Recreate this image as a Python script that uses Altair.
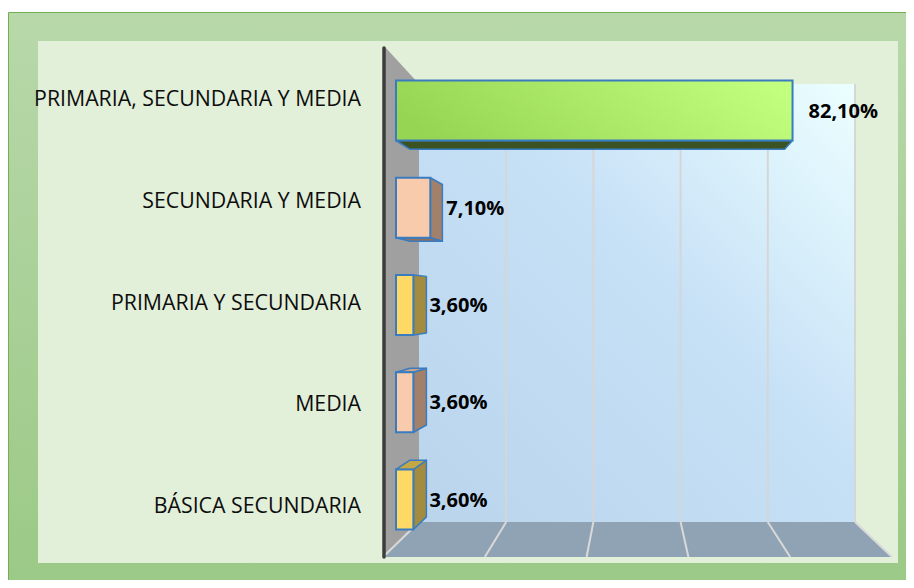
import altair as alt
import pandas as pd

# ---------------- data ----------------
categories = ["PRIMARIA, SECUNDARIA Y MEDIA", "SECUNDARIA Y MEDIA",
              "PRIMARIA Y SECUNDARIA", "MEDIA", "BÁSICA SECUNDARIA"]
values = [82.1, 7.1, 3.6, 3.6, 3.6]
front_colors = ["#9ad556", "#f8cbad", "#ffd966", "#f8cbad", "#ffd966"]
side_colors = ["#3b5323", "#a3806a", "#a38b3f", "#a3806a", "#a38b3f"]
cap_colors = ["#3b5323", "#8e6f5b", "#c4a747", "#c7a38c", "#c4a747"]
grid_ticks = [0, 20, 40, 60, 80, 100]

# ---------------- layout ----------------
W, H = 898, 572
X_RANGE = [388, 871]          # front plane of the bars (value 0..100)
Y_RANGE = [102.5, 491.5]      # bar centres (position 0..4)
LABEL_RANGE = [92, 499]       # category label centres
HALF = 0.3085                 # half bar thickness in position units
DEPTH = 0.055                 # perspective depth of the bars
VPX, VPY = 52.6, 1.949        # vanishing point in data units
BLUE = "#3a7cc0"

xs = alt.Scale(domain=[0, 100], range=X_RANGE, nice=False, zero=False)
ys = alt.Scale(domain=[0, 4], range=Y_RANGE, nice=False, zero=False)
ls = alt.Scale(domain=[0, 4], range=LABEL_RANGE, nice=False, zero=False)

bars = pd.DataFrame({
    "cat": categories, "v": values, "pos": list(range(len(values))),
    "color": front_colors,
})
bars["x0"] = 0.0
bars["yt"] = bars["pos"] - HALF
bars["yb"] = bars["pos"] + HALF


def bx(x):
    return x + DEPTH * (VPX - x)


def by(y):
    return y + DEPTH * (VPY - y)


side_rows, cap_rows = [], []
for i, (v, p) in enumerate(zip(values, bars["pos"])):
    yt, yb = p - HALF, p + HALF
    if v < VPX:
        side_rows.append({"id": i, "x": v, "y": yt, "y2": yb, "color": side_colors[i]})
        side_rows.append({"id": i, "x": bx(v), "y": by(yt), "y2": by(yb), "color": side_colors[i]})
    if yt > VPY:
        cap_rows.append({"id": i, "y": yt, "x": 0.0, "x2": v, "color": cap_colors[i]})
        cap_rows.append({"id": i, "y": by(yt), "x": bx(0.0), "x2": bx(v), "color": cap_colors[i]})
    elif yb < VPY:
        cap_rows.append({"id": i, "y": yb, "x": 0.0, "x2": v, "color": cap_colors[i]})
        cap_rows.append({"id": i, "y": by(yb), "x": bx(0.0), "x2": bx(v), "color": cap_colors[i]})
sides = pd.DataFrame(side_rows)
caps = pd.DataFrame(cap_rows)

one = pd.DataFrame({"k": [0]})

# ---------------- frame / 3D walls (pixel decoration) ----------------
outer = alt.Chart(one).mark_rect(
    fill=alt.Gradient(gradient="linear",
                      stops=[alt.GradientStop(color="#b8d8aa", offset=0),
                             alt.GradientStop(color="#9bc986", offset=1)],
                      x1=0, x2=0, y1=0, y2=1),
    stroke="#74b052", strokeWidth=1,
).encode(x=alt.value(0.5), x2=alt.value(W + 6), y=alt.value(4.5), y2=alt.value(H + 6))

inner = alt.Chart(one).mark_rect(fill="#e2efd9").encode(
    x=alt.value(30), x2=alt.value(890), y=alt.value(33), y2=alt.value(555))

backwall = alt.Chart(one).mark_rect(
    fill=alt.Gradient(gradient="linear",
                      stops=[alt.GradientStop(color="#bad4ec", offset=0),
                             alt.GradientStop(color="#c6e0f6", offset=0.55),
                             alt.GradientStop(color="#ecffff", offset=1)],
                      x1=0, x2=1, y1=1, y2=0),
).encode(x=alt.value(411), x2=alt.value(847), y=alt.value(76), y2=alt.value(514))

sidewall_df = pd.DataFrame({"px": [377, 411], "py": [39, 76], "py2": [549, 514]})
sidewall = alt.Chart(sidewall_df).mark_area(fill="#a0a0a0", orient="vertical").encode(
    x=alt.X("px:Q", scale=None, axis=None),
    y=alt.Y("py:Q", scale=None, axis=None),
    y2="py2:Q")

floor_df = pd.DataFrame({"py": [514, 549], "px": [411, 375], "px2": [847, 884]})
floor = alt.Chart(floor_df).mark_area(fill="#8fa3b5", orient="horizontal").encode(
    y=alt.Y("py:Q", scale=None, axis=None),
    x=alt.X("px:Q", scale=None, axis=None),
    x2="px2:Q")

grid_df = pd.DataFrame({"t": grid_ticks})
backgrid = alt.Chart(grid_df).transform_filter("datum.t > 0").transform_calculate(
    gx="411 + 4.36 * datum.t"
).mark_rule(stroke="#d6d6d6", strokeWidth=2).encode(
    x=alt.X("gx:Q", scale=None, axis=None), y=alt.value(76), y2=alt.value(514))

floorgrid = alt.Chart(grid_df).transform_calculate(
    gx="411 + 4.36 * datum.t", fx="375 + 5.09 * datum.t", gy="514", fy="549"
).mark_rule(stroke="#d9d9d9", strokeWidth=2).encode(
    x=alt.X("gx:Q", scale=None, axis=None), x2="fx:Q",
    y=alt.Y("gy:Q", scale=None, axis=None), y2="fy:Q")

axisline = alt.Chart(one).mark_rule(stroke="#3c3c3c", strokeWidth=3.5, strokeCap="round").encode(
    x=alt.value(376), y=alt.value(40), y2=alt.value(549))

# ---------------- bars ----------------
side_layer = alt.Chart(sides).mark_area(orient="vertical", stroke=BLUE, strokeWidth=1.5,
                                        strokeJoin="round").encode(
    x=alt.X("x:Q", scale=xs, axis=None),
    y=alt.Y("y:Q", scale=ys, axis=None),
    y2="y2:Q",
    fill=alt.Fill("color:N", scale=None),
    detail="id:N")

cap_layer = alt.Chart(caps).mark_area(orient="horizontal", stroke=BLUE, strokeWidth=1.5,
                                      strokeJoin="round").encode(
    y=alt.Y("y:Q", scale=ys, axis=None),
    x=alt.X("x:Q", scale=xs, axis=None),
    x2="x2:Q",
    fill=alt.Fill("color:N", scale=None),
    detail="id:N")

front_enc = dict(
    x=alt.X("x0:Q", scale=xs, axis=None), x2="v:Q",
    y=alt.Y("yt:Q", scale=ys, axis=None), y2="yb:Q",
)
front_plain = alt.Chart(bars).transform_filter("datum.pos > 0").mark_rect(
    stroke=BLUE, strokeWidth=2).encode(fill=alt.Fill("color:N", scale=None), **front_enc)
front_green = alt.Chart(bars).transform_filter("datum.pos == 0").mark_rect(
    stroke=BLUE, strokeWidth=2,
    fill=alt.Gradient(gradient="linear",
                      stops=[alt.GradientStop(color="#96d453", offset=0),
                             alt.GradientStop(color="#c2ff7e", offset=1)],
                      x1=0, x2=1, y1=0.5, y2=0.3),
).encode(**front_enc)

value_labels = alt.Chart(bars).transform_calculate(
    label="replace(format(datum.v, '.2f'), '.', ',') + '%'"
).mark_text(align="left", baseline="middle", dx=16, dy=1, font="Open Sans",
            fontSize=20, fontWeight="bold", color="#000000").encode(
    x=alt.X("v:Q", scale=xs, axis=None),
    y=alt.Y("pos:Q", scale=ys, axis=None),
    text="label:N")

cat_labels = alt.Chart(bars).mark_text(align="right", baseline="middle", font="Open Sans",
                                       fontSize=21.3, color="#0d0d0d").encode(
    x=alt.value(353),
    y=alt.Y("pos:Q", scale=ls, axis=None),
    text="cat:N")

chart = alt.layer(
    outer, inner, backwall, sidewall, floor, backgrid, floorgrid, axisline,
    side_layer, cap_layer, front_plain, front_green, value_labels, cat_labels,
).resolve_scale(y="independent").properties(
    width=W, height=H, padding=0,
    autosize=alt.AutoSizeParams(type="none"),
    background="white",
).configure_view(stroke=None)

chart.save("out.html", embed_options={"renderer": "svg", "actions": False})
